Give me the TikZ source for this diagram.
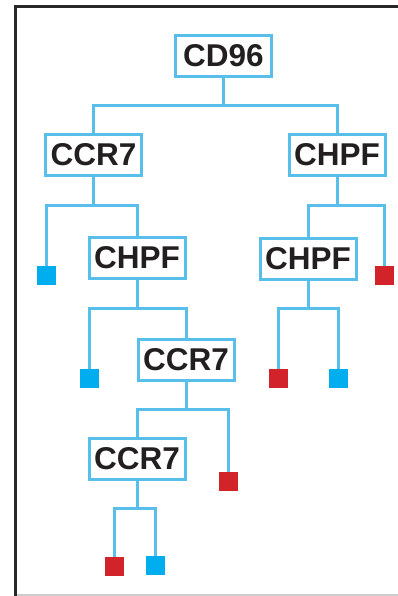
\documentclass[tikz,border=0pt]{standalone}
\usepackage{fontspec}
\setmainfont{Liberation Sans}
\definecolor{linec}{RGB}{88,190,234}
\definecolor{bluesq}{RGB}{0,174,239}
\definecolor{redsq}{RGB}{210,35,42}
\definecolor{txt}{RGB}{35,31,32}
\definecolor{frame}{RGB}{40,40,40}
\begin{document}
\begin{tikzpicture}[x=1pt,y=-1pt,
  gene/.style={draw=linec,line width=3pt,fill=white,minimum width=96pt,minimum height=41pt,inner sep=0pt,
    font=\fontsize{31.5}{36}\selectfont\bfseries,text=txt},
  leafb/.style={fill=bluesq,minimum size=19pt,inner sep=0pt},
  leafr/.style={fill=redsq,minimum size=19pt,inner sep=0pt},
  conn/.style={draw=linec,line width=3pt}]
\useasboundingbox (0,0) rectangle (398,596);
% frame
\draw[frame,line width=3pt] (15.5,596) -- (15.5,7) -- (398,7);
\draw[gray!40,line width=1.2pt] (17,595) -- (398,595);
% nodes
\node[gene] (cd96) at (223.5,56) {CD96};
\node[gene] (ccr7a) at (93.5,155) {CCR7};
\node[gene] (chpfR) at (337,155) {CHPF};
\node[leafb] (s1) at (46.5,275.5) {};
\node[gene] (chpfL) at (137,258) {CHPF};
\node[gene] (chpfR2) at (308,258.5) {CHPF};
\node[leafr] (s2) at (384.5,275.5) {};
\node[leafb] (s3) at (89.5,378.5) {};
\node[gene] (ccr7b) at (186,359.5) {CCR7};
\node[leafr] (s4) at (278.5,378.5) {};
\node[leafb] (s5) at (338.5,378.5) {};
\node[gene] (ccr7c) at (137,458.5) {CCR7};
\node[leafr] (s6) at (228.5,481.5) {};
\node[leafr] (s7) at (114.5,566.5) {};
\node[leafb] (s8) at (155.5,565.5) {};
% connectors
\foreach \p/\a/\b in {cd96/ccr7a/chpfR, ccr7a/s1/chpfL, chpfR/chpfR2/s2, chpfL/s3/ccr7b,
    chpfR2/s4/s5, ccr7b/ccr7c/s6, ccr7c/s7/s8}{
  \draw[conn] (\p.south) -- ++(0,28) coordinate (j);
  \draw[conn,line join=miter] (\a.north) |- (j) -| (\b.north);
}
\end{tikzpicture}
\end{document}
